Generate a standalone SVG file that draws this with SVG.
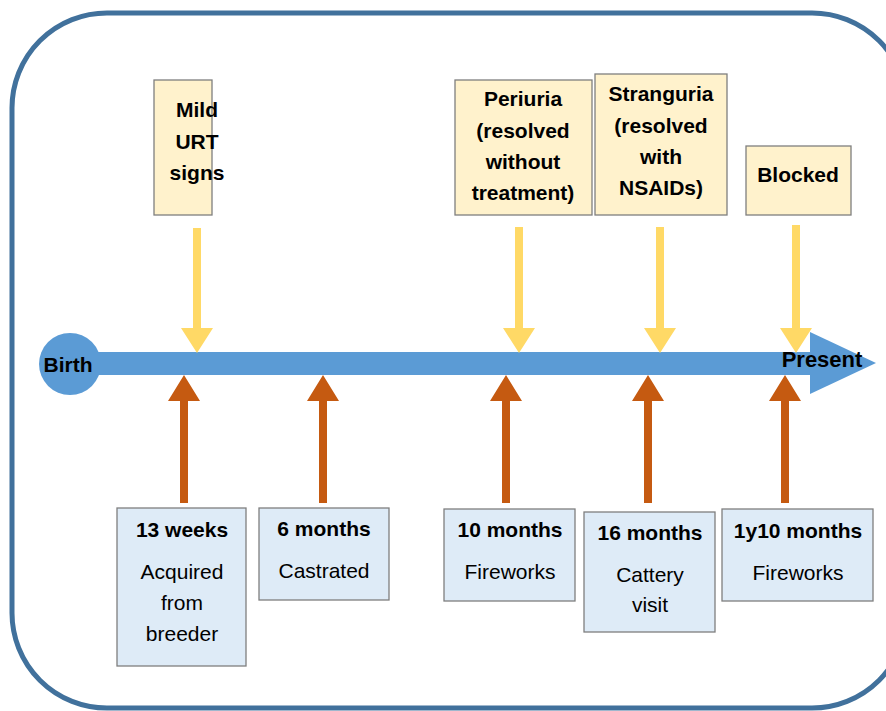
<svg xmlns="http://www.w3.org/2000/svg" width="886" height="711" viewBox="0 0 886 711">
<style>
.frame{fill:#fff;stroke:#41719C;stroke-width:5}
.ev{fill:#FFF2CC;stroke:#7F7F7F;stroke-width:1.3}
.ag{fill:#DEEBF7;stroke:#7F7F7F;stroke-width:1.3}
.b{font-family:"Liberation Sans",Arial,sans-serif;font-weight:bold;font-size:21px;fill:#000;text-anchor:middle}
.r{font-family:"Liberation Sans",Arial,sans-serif;font-size:21px;fill:#000;text-anchor:middle}
.y{fill:#FFD966}
.o{fill:#C55A11}
.tl{fill:#5B9BD5}
</style>
<rect class="frame" x="12" y="13" width="895" height="695" rx="95" ry="95"/>
<g id="timeline">
<circle class="tl" cx="70" cy="364" r="31"/>
<rect class="tl" x="70" y="352" width="742" height="23"/>
<polygon class="tl" points="810,332 876,363 810,394"/>
<text class="b" x="68" y="372">Birth</text>
<text class="b" x="822" y="367" style="font-size:22px">Present</text>
</g>
<g id="connectors">
<path class="y" d="M193,228h8v100h12l-16,25l-16,-25h12z"/>
<path class="y" d="M515,227h8v101h12l-16,25l-16,-25h12z"/>
<path class="y" d="M656,227h8v101h12l-16,25l-16,-25h12z"/>
<path class="y" d="M792,225h8v103h12l-16,25l-16,-25h12z"/>
<path class="o" d="M180,503v-102h-12l16,-26l16,26h-12v102z"/>
<path class="o" d="M319,503v-102h-12l16,-26l16,26h-12v102z"/>
<path class="o" d="M502,503v-102h-12l16,-26l16,26h-12v102z"/>
<path class="o" d="M644,503v-102h-12l16,-26l16,26h-12v102z"/>
<path class="o" d="M781,503v-102h-12l16,-26l16,26h-12v102z"/>
</g>
<g id="mild-urt">
<rect class="ev" x="154" y="80" width="58" height="135"/>
<text class="b" x="197" y="117">Mild</text>
<text class="b" x="197" y="149">URT</text>
<text class="b" x="197" y="180">signs</text>
</g>
<g id="periuria">
<rect class="ev" x="455" y="80" width="137" height="135"/>
<text class="b" x="523" y="106">Periuria</text>
<text class="b" x="523" y="138">(resolved</text>
<text class="b" x="523" y="169">without</text>
<text class="b" x="523" y="200">treatment)</text>
</g>
<g id="stranguria">
<rect class="ev" x="595" y="74" width="132" height="141"/>
<text class="b" x="661" y="101">Stranguria</text>
<text class="b" x="661" y="133">(resolved</text>
<text class="b" x="661" y="164">with</text>
<text class="b" x="661" y="195">NSAIDs)</text>
</g>
<g id="blocked">
<rect class="ev" x="746" y="146" width="105" height="69"/>
<text class="b" x="798" y="182">Blocked</text>
</g>
<g id="w13">
<rect class="ag" x="117" y="508" width="129" height="158"/>
<text class="b" x="182" y="537">13 weeks</text>
<text class="r" x="182" y="579">Acquired</text>
<text class="r" x="182" y="610">from</text>
<text class="r" x="182" y="641">breeder</text>
</g>
<g id="m6">
<rect class="ag" x="259" y="508" width="130" height="92"/>
<text class="b" x="324" y="536">6 months</text>
<text class="r" x="324" y="578">Castrated</text>
</g>
<g id="m10">
<rect class="ag" x="444" y="509" width="131" height="92"/>
<text class="b" x="510" y="537">10 months</text>
<text class="r" x="510" y="579">Fireworks</text>
</g>
<g id="m16">
<rect class="ag" x="584" y="512" width="131" height="120"/>
<text class="b" x="650" y="540">16 months</text>
<text class="r" x="650" y="582">Cattery</text>
<text class="r" x="650" y="612">visit</text>
</g>
<g id="y1m10">
<rect class="ag" x="722" y="509" width="151" height="92"/>
<text class="b" x="798" y="538">1y10 months</text>
<text class="r" x="798" y="580">Fireworks</text>
</g>
</svg>
